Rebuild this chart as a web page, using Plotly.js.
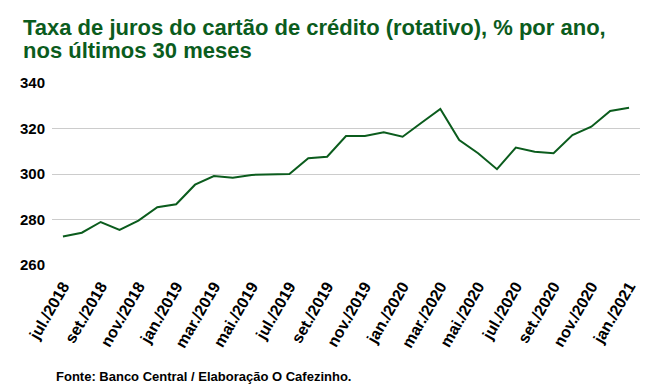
<!DOCTYPE html>
<html>
<head>
<meta charset="utf-8">
<script src="https://cdn.plot.ly/plotly-3.0.1.min.js"></script>
<style>html,body{margin:0;padding:0;background:#fff;}#chart{width:654px;height:390px;}</style>
</head>
<body>
<div id="chart"></div>
<script>
const months = [
  "jul./2018","ago./2018","set./2018","out./2018","nov./2018","dez./2018",
  "jan./2019","fev./2019","mar./2019","abr./2019","mai./2019","jun./2019",
  "jul./2019","ago./2019","set./2019","out./2019","nov./2019","dez./2019",
  "jan./2020","fev./2020","mar./2020","abr./2020","mai./2020","jun./2020",
  "jul./2020","ago./2020","set./2020","out./2020","nov./2020","dez./2020",
  "jan./2021"
];
const rates = [
  272.5, 274.2, 278.9, 275.4, 279.5, 285.4,
  286.7, 295.3, 299.1, 298.4, 299.6, 299.9,
  300.0, 306.9, 307.6, 316.7, 316.7, 318.3,
  316.4, 322.5, 328.6, 314.9, 309.1, 302.1,
  311.6, 309.8, 309.1, 317.1, 320.8, 327.7,
  329.1
];
const tickLabels = months.filter((m, i) => i % 2 === 0);
const yTicks = [260, 280, 300, 320, 340];

const green = "#0b5c1d";
const font = "Liberation Sans, Arial, sans-serif";

const data = [{
  type: "scatter",
  mode: "lines",
  x: months,
  y: rates,
  line: {color: green, width: 2},
  hoverinfo: "x+y"
}];

const layout = {
  width: 654,
  height: 390,
  margin: {l: 52, r: 14, t: 83, b: 125},
  paper_bgcolor: "#fff",
  plot_bgcolor: "#fff",
  showlegend: false,
  font: {family: font, color: "#000"},
  xaxis: {
    type: "category",
    range: [-0.58, 30.58],
    tickmode: "array",
    tickvals: tickLabels,
    ticktext: tickLabels,
    tickangle: -60,
    tickfont: {family: font, size: 16, color: "#000", weight: "bold"},
    showgrid: false,
    zeroline: false,
    showline: false,
    ticks: "",
    ticklabelstandoff: 8
  },
  yaxis: {
    range: [260, 340],
    tickmode: "array",
    tickvals: yTicks,
    ticktext: yTicks.map(String),
    tickfont: {family: font, size: 15, color: "#000", weight: "bold"},
    showgrid: true,
    gridcolor: "#cccccc",
    gridwidth: 1,
    zeroline: false,
    showline: false,
    ticks: "",
    ticklabelstandoff: 6
  },
  annotations: [
    {
      text: "<b>Taxa de juros do cartão de crédito (rotativo), % por ano,</b>",
      xref: "paper", yref: "paper", x: -31/588, y: 1.305,
      xanchor: "left", yanchor: "middle", showarrow: false,
      font: {family: font, size: 22, color: green}
    },
    {
      text: "<b>nos últimos 30 meses</b>",
      xref: "paper", yref: "paper", x: -31/588, y: 1.181,
      xanchor: "left", yanchor: "middle", showarrow: false,
      font: {family: font, size: 22, color: green}
    },
    {
      text: "<b>Fonte: Banco Central / Elaboração O Cafezinho.</b>",
      xref: "paper", yref: "paper", x: 2/588, y: -0.615,
      xanchor: "left", yanchor: "middle", showarrow: false,
      font: {family: font, size: 13, color: "#000"}
    }
  ]
};

Plotly.newPlot("chart", data, layout, {displayModeBar: false, staticPlot: true});
</script>
</body>
</html>
